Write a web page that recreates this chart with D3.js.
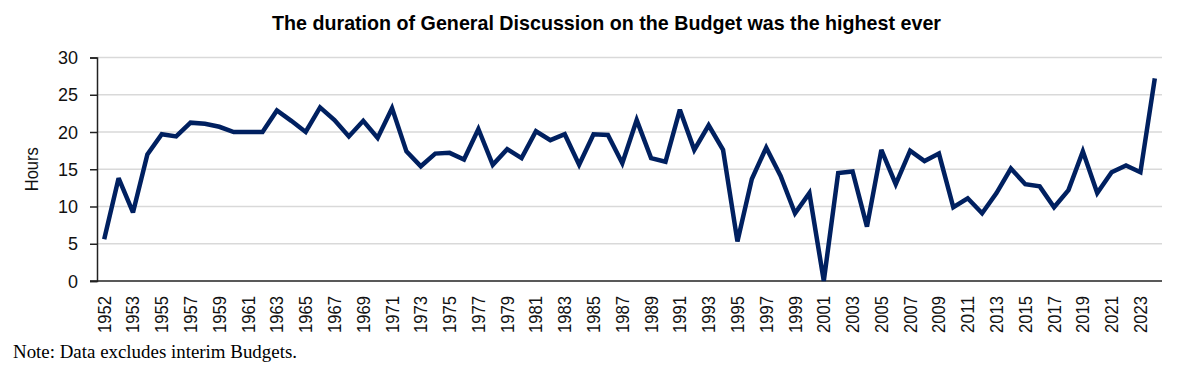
<!DOCTYPE html>
<html>
<head>
<meta charset="utf-8">
<script src="https://cdn.jsdelivr.net/npm/d3@7"></script>
<style>
  html, body { margin: 0; padding: 0; background: #fff; }
  svg { display: block; }
</style>
</head>
<body>
<svg id="chart"></svg>
<script>
// Budget sessions (1952 had two full Budgets; interim Budgets excluded)
const years = [
  '1952', '1952 (II)', '1953', '1954', '1955', '1956', '1957', '1958', '1959', '1960',
  '1961', '1962', '1963', '1964', '1965', '1966', '1967', '1968', '1969', '1970',
  '1971', '1972', '1973', '1974', '1975', '1976', '1977', '1978', '1979', '1980',
  '1981', '1982', '1983', '1984', '1985', '1986', '1987', '1988', '1989', '1990',
  '1991', '1992', '1993', '1994', '1995', '1996', '1997', '1998', '1999', '2000',
  '2001', '2002', '2003', '2004', '2005', '2006', '2007', '2008', '2009', '2010',
  '2011', '2012', '2013', '2014', '2015', '2016', '2017', '2018', '2019', '2020',
  '2021', '2022', '2023', '2024'
];

// Hours of General Discussion on the Budget
const hours = [
  5.6, 13.8, 9.2, 17.0, 19.7, 19.4, 21.25, 21.1, 20.7, 20.0,
  20.0, 20.0, 22.9, 21.5, 20.0, 23.3, 21.6, 19.4, 21.5, 19.2,
  23.2, 17.4, 15.4, 17.1, 17.2, 16.3, 20.4, 15.6, 17.7, 16.5,
  20.1, 18.9, 19.7, 15.6, 19.7, 19.6, 15.8, 21.6, 16.5, 16.0,
  23.0, 17.6, 20.9, 17.6, 5.3, 13.7, 17.9, 14.1, 9.1, 11.8,
  0.0, 14.5, 14.7, 7.3, 17.6, 13.0, 17.5, 16.1, 17.1, 9.9,
  11.1, 9.1, 11.8, 15.1, 13.0, 12.7, 9.9, 12.2, 17.4, 11.8,
  14.6, 15.5, 14.6, 27.2
];

const yTicks = [0, 5, 10, 15, 20, 25, 30];
// every other session gets a label on the x-axis
const xLabels = years.filter((d, i) => i % 2 === 0);

const title = 'The duration of General Discussion on the Budget was the highest ever';
const yTitle = 'Hours';
const note = 'Note: Data excludes interim Budgets.';

const W = 1200, H = 367;
const margin = { top: 57.5, right: 38, bottom: 86, left: 97 };
const width = W - margin.left - margin.right;
const height = H - margin.top - margin.bottom;

const svg = d3.select('#chart').attr('width', W).attr('height', H);

const g = svg.append('g')
  .attr('transform', `translate(${margin.left},${margin.top})`);

const x = d3.scaleBand()
  .domain(years)
  .range([0, width]);

const y = d3.scaleLinear()
  .domain([0, 30])
  .range([height, 0]);

const sansNarrow = '"Liberation Sans Narrow", "Arial Narrow", "Liberation Sans", Arial, sans-serif';
const sans = '"Liberation Sans", Arial, sans-serif';

// grid lines
g.append('g')
  .selectAll('line')
  .data(yTicks.filter(d => d > 0))
  .enter().append('line')
  .attr('x1', 0)
  .attr('x2', width)
  .attr('y1', d => y(d))
  .attr('y2', d => y(d))
  .attr('stroke', '#d9d9d9')
  .attr('stroke-width', 1.5);

// y axis
const yAxis = g.append('g')
  .call(d3.axisLeft(y).tickValues(yTicks).tickSize(7).tickPadding(12));
yAxis.select('.domain').attr('stroke', '#222').attr('stroke-width', 1.5);
yAxis.selectAll('.tick line').attr('stroke', '#222').attr('stroke-width', 1.5);
yAxis.selectAll('text')
  .attr('font-family', sans)
  .attr('font-size', 19)
  .attr('fill', '#111')
  .attr('textLength', d => String(d).length * 10)
  .attr('lengthAdjust', 'spacingAndGlyphs');

// x axis
const xAxis = g.append('g')
  .attr('transform', `translate(0,${height})`)
  .call(d3.axisBottom(x).tickValues(xLabels).tickSize(0).tickPadding(0));
xAxis.select('.domain').remove();
xAxis.selectAll('text')
  .attr('font-family', sans)
  .attr('font-size', 18)
  .attr('fill', '#111')
  .attr('text-anchor', 'end')
  .attr('dy', null)
  .attr('textLength', 37)
  .attr('lengthAdjust', 'spacingAndGlyphs')
  .attr('transform', 'translate(0,15) rotate(-90) translate(0,6.5)');

// baseline
g.append('line')
  .attr('x1', -7)
  .attr('x2', width)
  .attr('y1', y(0))
  .attr('y2', y(0))
  .attr('stroke', '#222')
  .attr('stroke-width', 1.5);

// the series
const line = d3.line()
  .x((d, i) => x(years[i]) + x.bandwidth() / 2)
  .y(d => y(d));

g.append('path')
  .datum(hours)
  .attr('fill', 'none')
  .attr('stroke', '#002060')
  .attr('stroke-width', 4.5)
  .attr('stroke-linejoin', 'miter')
  .attr('stroke-miterlimit', 3)
  .attr('d', line);

// y title
svg.append('text')
  .attr('transform', `translate(38,${margin.top + height / 2}) rotate(-90)`)
  .attr('text-anchor', 'middle')
  .attr('font-family', sans)
  .attr('font-size', 18)
  .attr('fill', '#111')
  .attr('textLength', 44)
  .attr('lengthAdjust', 'spacingAndGlyphs')
  .text(yTitle);

// chart title
svg.append('text')
  .attr('x', 272)
  .attr('y', 30)
  .attr('font-family', sansNarrow)
  .attr('font-weight', 'bold')
  .attr('font-size', 21)
  .attr('fill', '#000')
  .attr('textLength', 669)
  .attr('lengthAdjust', 'spacingAndGlyphs')
  .text(title);

// footnote
svg.append('text')
  .attr('x', 13)
  .attr('y', 358)
  .attr('font-family', '"Liberation Serif", "Times New Roman", serif')
  .attr('font-size', 19)
  .attr('fill', '#000')
  .attr('textLength', 284)
  .attr('lengthAdjust', 'spacingAndGlyphs')
  .text(note);
</script>
</body>
</html>
